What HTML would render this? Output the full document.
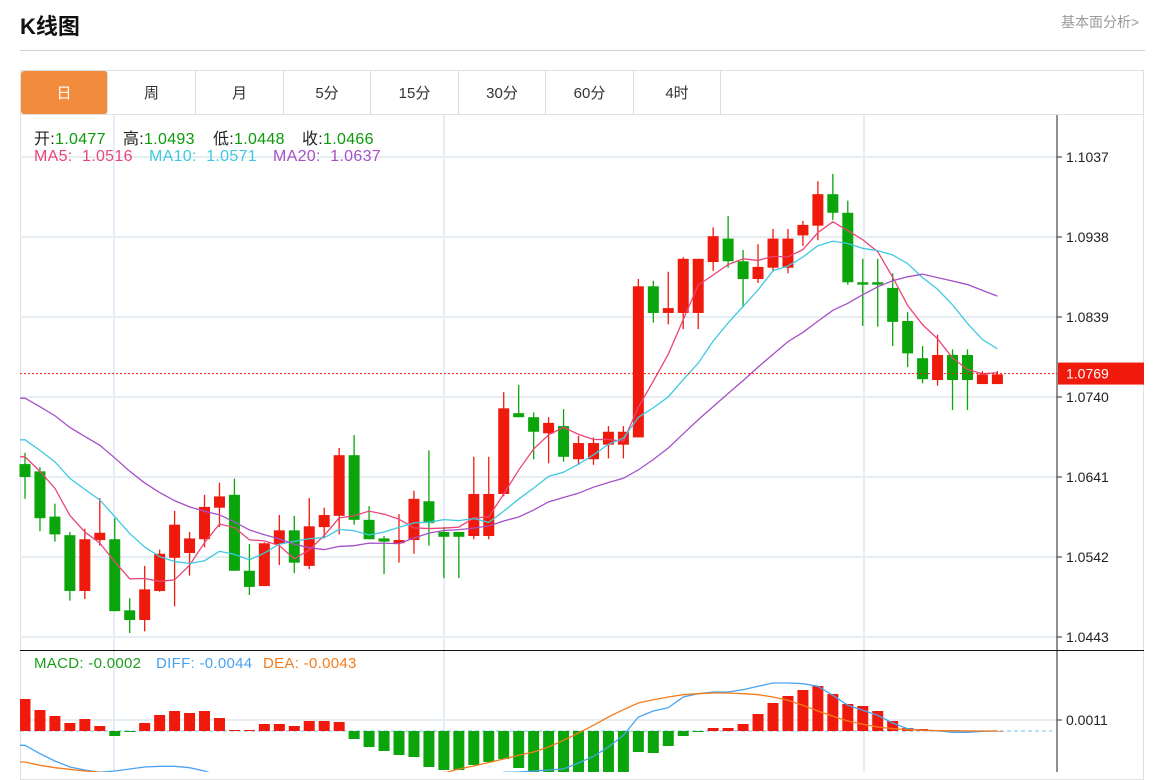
<!DOCTYPE html>
<html><head><meta charset="utf-8"><style>
body{margin:0;background:#fff;width:1173px;height:772px;overflow:hidden;font-family:"Liberation Sans","Noto Sans CJK SC",sans-serif;position:relative}
.abs{position:absolute}
.tab{position:absolute;top:71px;height:44px;line-height:45px;text-align:center;font-size:15px;color:#333;border-right:1px solid #ddd;box-sizing:border-box}
.lg{position:absolute;font-size:16px;white-space:pre;letter-spacing:0.3px}
</style></head><body>
<div class="abs" style="left:20px;top:9px;font-size:22px;font-weight:bold;color:#111">K线图</div>
<div class="abs" style="left:1061px;top:12px;font-size:14px;color:#999">基本面分析&gt;</div>
<div class="abs" style="left:20px;top:50px;width:1125px;height:1px;background:#d0d0d0"></div>
<div class="abs" style="left:20px;top:70px;width:1124px;height:710px;border:1px solid #e0e0e0;box-sizing:border-box"></div>
<div class="abs" style="left:20px;top:114px;width:1124px;height:1px;background:#e0e0e0"></div>
<div class="tab" style="left:21px;width:87px;height:43px;background:#f28b3c;color:#fff;border-radius:3px">日</div>
<div class="tab" style="left:108px;width:88px">周</div>
<div class="tab" style="left:196px;width:88px">月</div>
<div class="tab" style="left:284px;width:87px">5分</div>
<div class="tab" style="left:371px;width:88px">15分</div>
<div class="tab" style="left:459px;width:87px">30分</div>
<div class="tab" style="left:546px;width:88px">60分</div>
<div class="tab" style="left:634px;width:87px">4时</div>
<svg id="chart" class="abs" style="left:0;top:0" width="1173" height="772"></svg>
<script>
const opens=[1.0657,1.0648,1.0592,1.0569,1.0500,1.0563,1.0564,1.0476,1.0464,1.0500,1.0541,1.0547,1.0564,1.0603,1.0619,1.0525,1.0506,1.0558,1.0575,1.0531,1.0579,1.0593,1.0668,1.0588,1.0565,1.0559,1.0563,1.0611,1.0573,1.0573,1.0568,1.0568,1.0620,1.0720,1.0715,1.0695,1.0704,1.0663,1.0663,1.0681,1.0681,1.0690,1.0877,1.0844,1.0844,1.0844,1.0907,1.0936,1.0908,1.0886,1.0900,1.0900,1.0940,1.0952,1.0991,1.0968,1.0882,1.0882,1.0875,1.0834,1.0788,1.0761,1.0792,1.0792,1.0756,1.0756];
const highs=[1.0671,1.0653,1.0608,1.0573,1.0577,1.0615,1.0590,1.0491,1.0531,1.0551,1.0599,1.0573,1.0619,1.0634,1.0639,1.0558,1.0560,1.0594,1.0593,1.0615,1.0603,1.0677,1.0693,1.0605,1.0568,1.0595,1.0624,1.0674,1.0579,1.0573,1.0666,1.0666,1.0746,1.0755,1.0721,1.0715,1.0725,1.0692,1.0690,1.0704,1.0704,1.0886,1.0884,1.0895,1.0913,1.0911,1.0950,1.0964,1.0922,1.0929,1.0948,1.0948,1.0958,1.1007,1.1016,1.0983,1.0911,1.0911,1.0893,1.0845,1.0803,1.0817,1.0799,1.0799,1.0772,1.0772];
const lows=[1.0614,1.0574,1.0561,1.0488,1.0490,1.0556,1.0475,1.0448,1.0450,1.0499,1.0481,1.0519,1.0554,1.0579,1.0525,1.0495,1.0506,1.0532,1.0522,1.0527,1.0565,1.0570,1.0582,1.0564,1.0521,1.0535,1.0546,1.0556,1.0516,1.0516,1.0564,1.0564,1.0617,1.0715,1.0663,1.0658,1.0660,1.0656,1.0656,1.0664,1.0664,1.0690,1.0832,1.0830,1.0824,1.0824,1.0896,1.0900,1.0851,1.0881,1.0895,1.0893,1.0927,1.0934,1.0959,1.0879,1.0828,1.0827,1.0803,1.0777,1.0757,1.0754,1.0724,1.0724,1.0756,1.0756];
const closes=[1.0641,1.0590,1.0570,1.0500,1.0564,1.0572,1.0475,1.0464,1.0502,1.0546,1.0582,1.0565,1.0604,1.0617,1.0525,1.0505,1.0559,1.0575,1.0535,1.0580,1.0594,1.0668,1.0588,1.0564,1.0561,1.0563,1.0614,1.0584,1.0567,1.0567,1.0620,1.0620,1.0726,1.0715,1.0697,1.0708,1.0666,1.0683,1.0683,1.0697,1.0697,1.0877,1.0844,1.0850,1.0911,1.0911,1.0939,1.0908,1.0886,1.0901,1.0936,1.0936,1.0953,1.0991,1.0968,1.0882,1.0879,1.0879,1.0833,1.0794,1.0762,1.0792,1.0761,1.0761,1.0768,1.0768];
const priorCloses=[1.0800,1.0795,1.0790,1.0785,1.0792,1.0788,1.0795,1.0790,1.0785,1.0781,1.0720,1.0712,1.0705,1.0700,1.0703,1.0680,1.0675,1.0668,1.0666];
const priceTicks=[1.1037,1.0938,1.0839,1.0740,1.0641,1.0542,1.0443];
const macdHist=[32,21,15,8,12,5,-5,-1,8,16,20,18,20,13,1,1,7,7,5,10,10,9,-8,-16,-20,-24,-26,-36,-39,-39,-34,-31,-28,-37,-42,-45,-48,-50,-48,-46,-44,-21,-22,-15,-5,-1,3,3,7,17,28,35,41,45,37,27,25,20,10,3,2,1,1,0,0,0];
const diffLine=[-14.3,-22.7,-30,-36,-39,-41.3,-40,-38,-36,-35.3,-35.3,-36.7,-40,-45,-50,-55,-58,-60,-62,-63,-64,-63,-62,-64,-66,-68,-70,-70,-68,-62,-55,-48,-41.3,-41,-40,-39,-38,-32,-25.3,-16,-4.3,14,20,23.3,34,37.3,39,39,41.3,44.7,48,48,47.3,44.7,35.7,25.7,20.7,15.7,8,2.3,0.7,0.3,-1.3,-1.3,-0.3,0];
const deaLine=[-31,-34.3,-36.7,-38.3,-40,-41.3,-43,-44,-45,-46,-47,-48,-49,-50,-51,-52,-53,-54,-55,-56,-57,-58,-58,-57,-55,-53,-50,-46,-42,-38,-35,-31.5,-28,-24.3,-21,-16,-9.3,-2,5.7,14,21.3,28,31.3,34,36.3,37.3,38,38,37.3,36.3,34,30.7,25.7,20,14.7,10,6.7,4,2.3,1.3,0.7,0.3,0.3,0,0,0];
const macdTicks=[0.0011];
const lastPrice=1.0769;

const NS="http://www.w3.org/2000/svg";
const svg=document.getElementById('chart');
function mk(tag,attrs,parent){const e=document.createElementNS(NS,tag);for(const k in attrs)e.setAttribute(k,attrs[k]);(parent||svg).appendChild(e);return e;}
const x=i=>25+i*14.96;
const y=p=>157+(1.1037-p)*8081;
const ym=v=>731-v*1.0;
const RED="#f01a0c",GREEN="#0aa50a";

[114,444,864].forEach(gx=>{const l=mk('line',{x1:gx,x2:gx,y1:115,y2:772,stroke:'#e4edf5','stroke-width':2});
});
priceTicks.forEach(p=>{const l=mk('line',{x1:20,x2:1057,y1:y(p),y2:y(p),stroke:'#e6eef4','stroke-width':2});

const t=mk('line',{x1:1057,x2:1062,y1:y(p),y2:y(p),stroke:'#333'});
const tx=mk('text',{x:1066,y:y(p)+5,'font-size':14,fill:'#222','font-family':'Liberation Sans,sans-serif'});tx.textContent=p.toFixed(4);
});
macdTicks.forEach(v=>{const yy=ym(v*10000);const l=mk('line',{x1:20,x2:1057,y1:yy,y2:yy,stroke:'#e6eef4','stroke-width':2});

const t=mk('line',{x1:1057,x2:1062,y1:yy,y2:yy,stroke:'#333'});
const tx=mk('text',{x:1066,y:yy+5,'font-size':14,fill:'#222','font-family':'Liberation Sans,sans-serif'});tx.textContent=v.toFixed(4);
});
const zl=mk('line',{x1:20,x2:1052,y1:ym(0),y2:ym(0),stroke:'#a9d3ee','stroke-dasharray':'4,3','stroke-width':1.5});


const ax=mk('line',{x1:1057,x2:1057,y1:115,y2:772,stroke:'#222'});
const sep=mk('line',{x1:20,x2:1144,y1:650.5,y2:650.5,stroke:'#111'});

const cg=mk('g',{});
for(let i=0;i<closes.length;i++){
  const up=closes[i]>=opens[i];const col=up?RED:GREEN;
  const w=mk('line',{x1:x(i),x2:x(i),y1:y(highs[i]),y2:y(lows[i]),stroke:col,'stroke-width':1.3},cg);
  
  const top=y(Math.max(opens[i],closes[i])),bot=y(Math.min(opens[i],closes[i]));
  const r=mk('rect',{x:x(i)-5.5,y:top,width:11,height:Math.max(2,bot-top),fill:col},cg);
  
}
const all=priorCloses.concat(closes);
function ma(n){const out=[];for(let i=0;i<closes.length;i++){let s=0;const j=i+priorCloses.length;for(let k=j-n+1;k<=j;k++)s+=all[k];out.push(s/n);}return out;}
[[5,'#e9457a','ma5-line'],[10,'#3ec9e0','ma10-line'],[20,'#a64fc6','ma20-line']].forEach(([n,c,nm])=>{
  const v=ma(n);let d='M20,'+y(v[0]);v.forEach((p,i)=>d+=' L'+x(i)+','+y(p));
  const pth=mk('path',{d:d,fill:'none',stroke:c,'stroke-width':1.3});
  
});
const lp=mk('line',{x1:20,x2:1057,y1:y(lastPrice),y2:y(lastPrice),stroke:'#f01a0c','stroke-dasharray':'2,2'});

const lr=mk('rect',{x:1058,y:y(lastPrice)-11,width:86,height:22,fill:'#f01a0c'});

const lt=mk('text',{x:1066,y:y(lastPrice)+5,'font-size':14,fill:'#fff','font-family':'Liberation Sans,sans-serif'});lt.textContent=lastPrice.toFixed(4);


const clip=mk('clipPath',{id:'mc'});mk('rect',{x:20,y:651,width:1037,height:121},clip);
const mg=mk('g',{'clip-path':'url(#mc)'});
macdHist.forEach((v,i)=>{const y0=ym(0),y1=ym(v);
  const r=mk('rect',{x:x(i)-5.5,y:Math.min(y0,y1),width:11,height:Math.max(0.5,Math.abs(y1-y0)),fill:v>=0?RED:GREEN},mg);
  });
[[diffLine,'#4aa3ef','diff-line'],[deaLine,'#f57c1c','dea-line']].forEach(([arr,c,nm])=>{
  let d='M20,'+ym(arr[0]);arr.forEach((v,i)=>d+=' L'+x(i)+','+ym(v));
  const p=mk('path',{d:d,fill:'none',stroke:c,'stroke-width':1.3},mg);
  });
</script>
<div>
<div class="lg" style="left:34px;top:125px;color:#222">开:<span style="color:#0a9a0a">1.0477</span></div>
<div class="lg" style="left:123px;top:125px;color:#222">高:<span style="color:#0a9a0a">1.0493</span></div>
<div class="lg" style="left:213px;top:125px;color:#222">低:<span style="color:#0a9a0a">1.0448</span></div>
<div class="lg" style="left:302px;top:125px;color:#222">收:<span style="color:#0a9a0a">1.0466</span></div>
</div>
<div>
<div class="lg" style="left:34px;top:148px;color:#e9457a">MA5:  1.0516</div>
<div class="lg" style="left:149px;top:148px;color:#3ec9e0">MA10:  1.0571</div>
<div class="lg" style="left:273px;top:148px;color:#a64fc6">MA20:  1.0637</div>
</div>
<div>
<div class="lg" style="left:34px;top:655px;font-size:15px;color:#1a9f1a">MACD: -0.0002</div>
<div class="lg" style="left:156px;top:655px;font-size:15px;color:#4aa3ef">DIFF: -0.0044</div>
<div class="lg" style="left:263px;top:655px;font-size:15px;color:#f57c1c">DEA: -0.0043</div>
</div>
</body></html>
